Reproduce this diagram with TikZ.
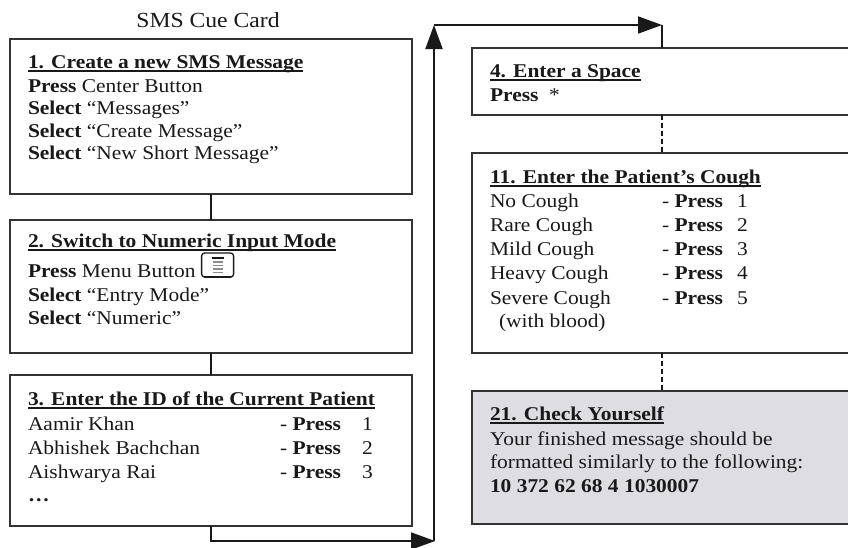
\documentclass[tikz,border=0pt]{standalone}
\usepackage{fontspec}
\setmainfont{Liberation Serif}[FakeStretch=1.1]
\usetikzlibrary{arrows.meta,calc}
\definecolor{boxgray}{RGB}{221,221,226}
\definecolor{edge}{RGB}{51,51,51}
\definecolor{ink}{RGB}{25,25,25}
\newcommand{\fsz}{\fontsize{19.5}{23}\selectfont}
\newcommand{\hd}[1]{\setbox0\hbox{\textbf{#1}}\rlap{\rule[-3.6pt]{\wd0}{1.2pt}}\box0}
\begin{document}
\begin{tikzpicture}[x=1pt,y=-1pt,
 box/.style={draw=edge, line width=1.4pt, fill=white, inner sep=0pt, outer sep=0pt, anchor=north west, rectangle},
 txt/.style={anchor=base west, inner sep=0pt, outer sep=0pt, font=\fsz, text=ink},
 conn/.style={draw=ink, line width=1.9pt},
 tip/.style={-{Triangle[length=24pt,width=17pt]}},
 dashconn/.style={draw=ink, line width=1.5pt, dash pattern=on 5pt off 3pt}]
\useasboundingbox (0,0) rectangle (848,547);
\clip (0,0) rectangle (848,547);

% title
\node[txt, anchor=base, font=\fontsize{21.5}{25}\selectfont] (title) at (208,27) {SMS Cue Card};

% boxes
\node[box, minimum width=402, minimum height=155] (b1) at (10,39) {};
\node[box, minimum width=402, minimum height=133] (b2) at (10,220) {};
\node[box, minimum width=402, minimum height=151] (b3) at (10,375) {};
\node[box, minimum width=380, minimum height=67] (b4) at (472,48) {};
\node[box, minimum width=380, minimum height=200] (b11) at (472,153) {};
\node[box, minimum width=380, minimum height=133, fill=boxgray] (b21) at (472,391) {};

% box 1
\node[txt] (t1a) at (28,68) {\hd{1. Create a new SMS Message}};
\node[txt] (t1b) at (28,92) {\textbf{Press} Center Button};
\node[txt] (t1c) at (28,114) {\textbf{Select} “Messages”};
\node[txt] (t1d) at (28,137) {\textbf{Select} “Create Message”};
\node[txt] (t1e) at (28,159) {\textbf{Select} “New Short Message”};

% box 2
\node[txt] (t2a) at (28,247) {\hd{2. Switch to Numeric Input Mode}};
\node[txt] (t2b) at (28,277) {\textbf{Press} Menu Button};
\node[txt] (t2c) at (28,301) {\textbf{Select} “Entry Mode”};
\node[txt] (t2d) at (28,324) {\textbf{Select} “Numeric”};

% menu icon
\coordinate (ic) at ($(t2b.base east)+(6,0)$);
\draw[line width=1.3pt, rounded corners=3pt, draw=ink] (ic) rectangle ++(32,-24);
\draw[line width=2.4pt, draw=ink, line cap=round] ($(ic)+(3,0)$) -- ++(26,0);
\draw[line width=1.6pt, draw=ink] ($(ic)+(10,-19)$) -- ++(12,0);
\foreach \k in {15,11.5,8,4.5}
  \draw[line width=1.2pt, draw=black!45] ($(ic)+(11,-\k)$) -- ++(10,0);

% box 3
\node[txt] (t3a) at (28,405) {\hd{3. Enter the ID of the Current Patient}};
\node[txt] (t3b) at (28,430) {Aamir Khan};
\node[txt] (t3c) at (28,454) {Abhishek Bachchan};
\node[txt] (t3d) at (28,478) {Aishwarya Rai};
\node[txt] (t3e) at (28,501) {\textbf{…}};
\node[txt] (p3b) at (280,430) {- \textbf{Press}};
\node[txt] (p3c) at (280,454) {- \textbf{Press}};
\node[txt] (p3d) at (280,478) {- \textbf{Press}};
\node[txt] (n3b) at (362,430) {1};
\node[txt] (n3c) at (362,454) {2};
\node[txt] (n3d) at (362,478) {3};

% box 4
\node[txt] (t4a) at (490,77) {\hd{4. Enter a Space}};
\node[txt] (t4b) at (490,101) {\textbf{Press}};
\node[txt] (t4c) at (549,101) {*};

% box 11
\node[txt] (t11a) at (490,183) {\hd{11. Enter the Patient’s Cough}};
\node[txt] (t11b) at (490,207) {No Cough};
\node[txt] (t11c) at (490,231) {Rare Cough};
\node[txt] (t11d) at (490,255) {Mild Cough};
\node[txt] (t11e) at (490,279) {Heavy Cough};
\node[txt] (t11f) at (490,304) {Severe Cough};
\node[txt] (t11g) at (499,327) {(with blood)};
\node[txt] (p11b) at (662,207) {- \textbf{Press}};
\node[txt] (p11c) at (662,231) {- \textbf{Press}};
\node[txt] (p11d) at (662,255) {- \textbf{Press}};
\node[txt] (p11e) at (662,279) {- \textbf{Press}};
\node[txt] (p11f) at (662,304) {- \textbf{Press}};
\node[txt] (n11b) at (737,207) {1};
\node[txt] (n11c) at (737,231) {2};
\node[txt] (n11d) at (737,255) {3};
\node[txt] (n11e) at (737,279) {4};
\node[txt] (n11f) at (737,304) {5};

% box 21
\node[txt] (t21a) at (490,420) {\hd{21. Check Yourself}};
\node[txt] (t21b) at (490,445) {Your finished message should be};
\node[txt] (t21c) at (490,468) {formatted similarly to the following:};
\node[txt] (t21d) at (490,492) {\textbf{10 372 62 68 4 1030007}};

% connectors
\coordinate (c1) at (435,541);
\coordinate (c2) at (434,25);
\coordinate (c3) at (b4.north |- c2);
\draw[conn] (b1.south) -- (b2.north);
\draw[conn] (b2.south) -- (b3.north);
\draw[conn,tip] (b3.south) |- (c1);
\draw[conn,tip] (c2 |- c1) -- (c2);
\draw[conn,tip] (c2) -- (c3);
\draw[conn] (c3) -- (b4.north);
\draw[dashconn] (b4.south) -- (b11.north);
\draw[dashconn] (b11.south) -- (b21.north);
\end{tikzpicture}
\end{document}
